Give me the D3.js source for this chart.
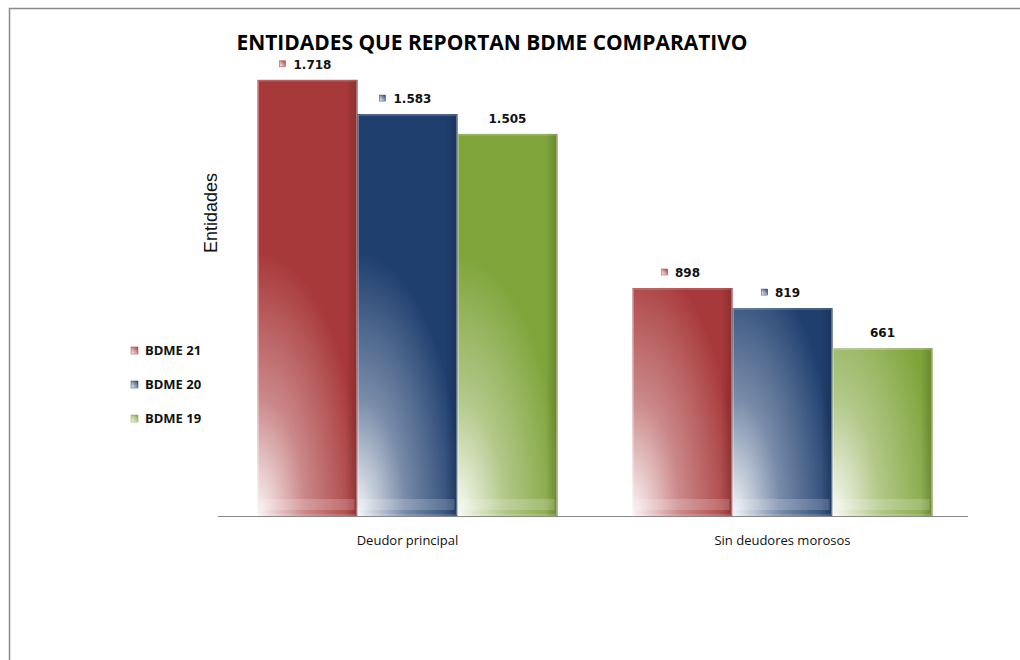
<!DOCTYPE html>
<html>
<head>
<meta charset="utf-8">
<script src="https://cdn.jsdelivr.net/npm/d3@7"></script>
<style>
  body { margin: 0; background: #fff; }
  svg { display: block; }
</style>
</head>
<body>
<svg width="1020" height="660"></svg>
<script>
var categories = ["Deudor principal", "Sin deudores morosos"];
var series = ["BDME 21", "BDME 20", "BDME 19"];
var bdme21 = [1718, 898];
var bdme20 = [1583, 819];
var bdme19 = [1505, 661];
var valueLabels = [["1.718", "898"], ["1.583", "819"], ["1.505", "661"]];
var colors = ["#a8393a", "#1f3f6f", "#7fa43a"];
var showMarker = [true, true, false];

var svg = d3.select("svg"),
    margin = {top: 59, left: 220, right: 50, bottom: 144},
    width = +svg.attr("width") - margin.left - margin.right,
    height = +svg.attr("height") - margin.top - margin.bottom;

var values = [bdme21, bdme20, bdme19];

// frame
svg.append("path")
    .attr("d", "M9.5,660V8.5H1020")
    .attr("fill", "none")
    .attr("stroke", "#8a8a8a")
    .attr("stroke-width", 1.5);

var defs = svg.append("defs");
colors.forEach(function(c, i) {
  var gr = defs.append("linearGradient")
      .attr("id", "grad" + i)
      .attr("x1", 0).attr("y1", 1)
      .attr("x2", 1).attr("y2", 0);
  gr.append("stop").attr("offset", "0%").attr("stop-color", "#fff");
  gr.append("stop").attr("offset", "100%").attr("stop-color", c);
  var side = defs.append("linearGradient")
      .attr("id", "side" + i)
      .attr("x1", 0).attr("y1", 0).attr("x2", 1).attr("y2", 0);
  side.append("stop").attr("offset", "0%").attr("stop-color", "#000").attr("stop-opacity", 0);
  side.append("stop").attr("offset", "88%").attr("stop-color", "#000").attr("stop-opacity", 0);
  side.append("stop").attr("offset", "100%").attr("stop-color", "#000").attr("stop-opacity", 0.18);
  // white corner at the bottom left, in each bar's own coordinates
  var rg = defs.append("radialGradient")
      .attr("id", "bar" + i)
      .attr("gradientUnits", "userSpaceOnUse")
      .attr("cx", 0).attr("cy", 0).attr("fx", 0).attr("fy", 0)
      .attr("r", 105);
  rg.append("stop").attr("offset", "0%").attr("stop-color", d3.interpolateRgb("#fff", c)(0.05));
  rg.append("stop").attr("offset", "45%").attr("stop-color", d3.interpolateRgb("#fff", c)(0.6));
  rg.append("stop").attr("offset", "100%").attr("stop-color", c);
});

var g = svg.append("g").attr("transform", "translate(" + margin.left + "," + margin.top + ")");

var x0 = d3.scaleBand()
    .domain(categories)
    .range([0, width])
    .paddingInner(0.2)
    .paddingOuter(0.1);

var x1 = d3.scaleBand()
    .domain(d3.range(series.length))
    .range([0, x0.bandwidth()])
    .padding(0);

var y = d3.scaleLinear()
    .domain([0, 1800])
    .range([height, 0]);

var data = [];
series.forEach(function(s, i) {
  categories.forEach(function(c, j) {
    data.push({s: i, c: c, v: values[i][j], label: valueLabels[i][j]});
  });
});

defs.selectAll("radialGradient")
    .attr("gradientTransform", "translate(0," + height + ") scale(" + (x1.bandwidth() / 100) + ",2.5)");

var bars = g.selectAll(".bar")
  .data(data)
  .enter().append("g")
    .attr("class", "bar")
    .attr("transform", function(d) { return "translate(" + (x0(d.c) + x1(d.s)) + ",0)"; });

bars.append("rect")
    .attr("y", function(d) { return y(d.v); })
    .attr("width", x1.bandwidth())
    .attr("height", function(d) { return height - y(d.v); })
    .attr("fill", function(d) { return "url(#bar" + d.s + ")"; });

bars.append("rect")
    .attr("y", function(d) { return y(d.v); })
    .attr("width", x1.bandwidth())
    .attr("height", function(d) { return height - y(d.v); })
    .attr("fill", function(d) { return "url(#side" + d.s + ")"; });

// light bevel on the edges and a soft band at the bottom
bars.append("rect")
    .attr("x", 1)
    .attr("y", function(d) { return y(d.v) + 1; })
    .attr("width", x1.bandwidth() - 2)
    .attr("height", function(d) { return height - y(d.v) - 2; })
    .attr("fill", "none")
    .attr("stroke", "#fff")
    .attr("stroke-opacity", 0.3);

bars.append("rect")
    .attr("x", 3)
    .attr("y", height - 17)
    .attr("width", x1.bandwidth() - 6)
    .attr("height", 11)
    .attr("fill", "#fff")
    .attr("opacity", 0.18);

// value labels
var lab = bars.append("g")
    .attr("transform", function(d) { return "translate(" + (x1.bandwidth() / 2) + "," + (y(d.v) - 11) + ")"; });

lab.append("text")
    .attr("x", function(d) { return showMarker[d.s] ? 5 : 0; })
    .attr("text-anchor", "middle")
    .style("font", "bold 12px 'DejaVu Sans', Verdana, sans-serif")
    .attr("fill", "#111")
    .text(function(d) { return d.label; });

lab.filter(function(d) { return showMarker[d.s]; })
  .append("rect")
    .attr("x", function(d) { return -d.label.length * 3.6 - 10; })
    .attr("y", -8)
    .attr("width", 6)
    .attr("height", 6)
    .attr("fill", function(d) { return "url(#grad" + d.s + ")"; })
    .attr("stroke", function(d) { return colors[d.s]; })
    .attr("stroke-width", 0.5);

// baseline axis
g.append("line")
    .attr("x1", -2)
    .attr("x2", width - 2)
    .attr("y1", height + 0.5)
    .attr("y2", height + 0.5)
    .attr("stroke", "#888");

g.append("g")
    .attr("class", "axis axis--x")
    .attr("transform", "translate(0," + height + ")")
    .call(d3.axisBottom(x0).tickSize(0).tickPadding(20))
    .call(function(a) { a.select(".domain").remove(); })
  .selectAll("text")
    .style("font", "13px 'Open Sans', sans-serif")
    .attr("fill", "#111");

// y title
svg.append("text")
    .attr("transform", "translate(217,213) rotate(-90)")
    .attr("text-anchor", "middle")
    .style("font", "18px 'Liberation Sans', Arial, sans-serif")
    .attr("fill", "#111")
    .text("Entidades");

// title
svg.append("text")
    .attr("x", 492)
    .attr("y", 50)
    .attr("text-anchor", "middle")
    .attr("textLength", 511)
    .attr("lengthAdjust", "spacingAndGlyphs")
    .style("font", "bold 21px 'Open Sans', sans-serif")
    .attr("fill", "#000")
    .text("ENTIDADES QUE REPORTAN BDME COMPARATIVO");

// legend
var legend = svg.selectAll(".legend")
  .data(series)
  .enter().append("g")
    .attr("class", "legend")
    .attr("transform", function(d, i) { return "translate(131," + (350 + i * 34) + ")"; });

legend.append("rect")
    .attr("y", -3)
    .attr("width", 7)
    .attr("height", 7)
    .attr("fill", function(d, i) { return "url(#grad" + i + ")"; })
    .attr("stroke", function(d, i) { return colors[i]; })
    .attr("stroke-width", 0.5);

legend.append("text")
    .attr("x", 14)
    .attr("dy", "0.35em")
    .style("font", "bold 13px 'Open Sans', sans-serif")
    .attr("fill", "#111")
    .text(function(d) { return d; });
</script>
</body>
</html>
